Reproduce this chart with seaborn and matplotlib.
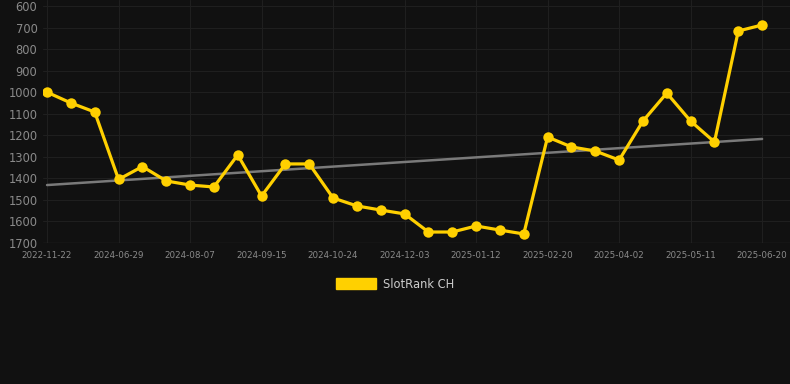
import numpy as np
import pandas as pd
import matplotlib
matplotlib.use("Agg")
import matplotlib.pyplot as plt
import seaborn as sns
from matplotlib.patches import Patch

# datos (posiciones)
fechas = ["2022-11-22", "2024-06-03", "2024-06-16", "2024-06-29", "2024-07-12", "2024-07-25",
          "2024-08-07", "2024-08-20", "2024-09-02", "2024-09-15", "2024-09-28", "2024-10-11",
          "2024-10-24", "2024-11-06", "2024-11-19", "2024-12-03", "2024-12-16", "2024-12-30",
          "2025-01-12", "2025-01-25", "2025-02-07", "2025-02-20", "2025-03-05", "2025-03-19",
          "2025-04-02", "2025-04-15", "2025-04-28", "2025-05-11", "2025-05-24", "2025-06-07",
          "2025-06-20"]
rank = [1000, 1050, 1092, 1405, 1345, 1412, 1431, 1440, 1291, 1482, 1333, 1333,
        1491, 1528, 1547, 1565, 1649, 1649, 1621, 1640, 1658, 1208, 1254, 1273,
        1315, 1134, 1004, 1134, 1231, 716, 688]
tendencia = [1431, 1217]  # inicio y fin de la linea de tendencia

df = pd.DataFrame({"idx": range(len(fechas)), "fecha": fechas, "rank": rank})

sns.set_style("dark")
plt.rcParams["font.family"] = ["DejaVu Sans"]

bg = "#111111"
fig = plt.figure(figsize=(7.9, 3.84), dpi=100, facecolor=bg)
ax = fig.add_axes([43 / 790, 1 - 243 / 384, 1 - 43 / 790, 243 / 384])
ax.set_facecolor(bg)

# linea de tendencia
ax.plot([df["idx"].iloc[0], df["idx"].iloc[-1]], tendencia, color="#7a7a7a", lw=1.8, zorder=2)

sns.lineplot(data=df, x="idx", y="rank", ax=ax, color="#FFD000", lw=2.3,
             marker="o", markersize=7.5, markeredgewidth=0, zorder=3)

ax.set_ylim(1700, 572)
ax.set_xlim(-0.17, 31.17)
ax.set_yticks(range(600, 1701, 100))
ticks = df["idx"].iloc[::3]
ax.set_xticks(ticks)
ax.set_xticklabels(df["fecha"].iloc[::3])
ax.tick_params(axis="y", colors="#8a8a8a", labelsize=8.3, length=0, pad=4)
ax.tick_params(axis="x", colors="#8a8a8a", labelsize=6.3, length=0, pad=6)
ax.grid(True, color="#1f1f1f", lw=0.8)
ax.set_xlabel("")
ax.set_ylabel("")
for s in ax.spines.values():
    s.set_visible(False)
ax.axhline(1700, color="#2a2a2a", lw=1)

fig.legend(handles=[Patch(facecolor="#FFD000", edgecolor="#FFD000", label="SlotRank CH")],
           loc="center", bbox_to_anchor=(0.5, 1 - 284 / 384), frameon=False,
           labelcolor="#cccccc", fontsize=8.3, handlelength=3.5, handleheight=1.0,
           handletextpad=0.55)

fig.savefig("out.png", dpi=100, facecolor=bg)
